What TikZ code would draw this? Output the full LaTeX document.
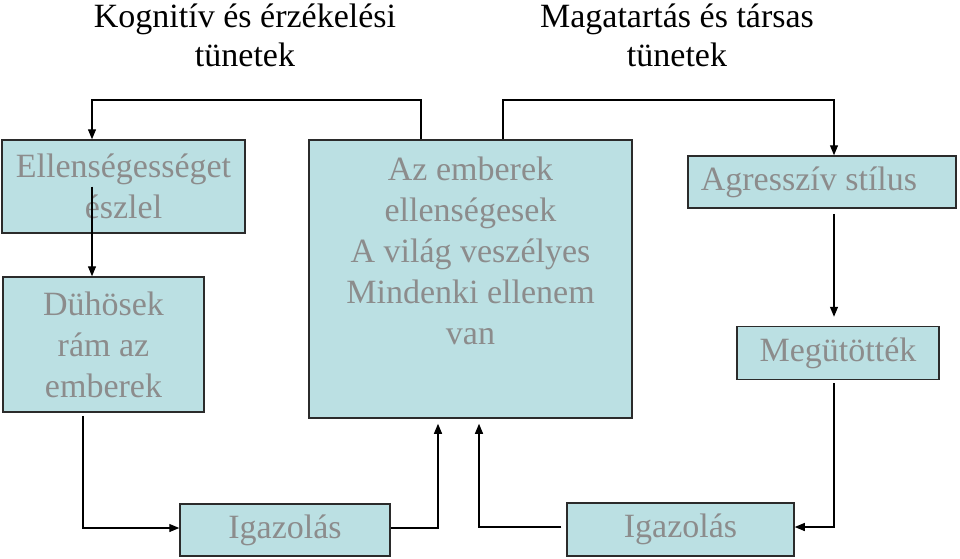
\documentclass[tikz,border=0pt]{standalone}
\usepackage{fontspec}
\setmainfont{Liberation Serif}
\usetikzlibrary{arrows.meta,positioning}
\definecolor{boxfill}{HTML}{BBE0E3}
\definecolor{boxtext}{HTML}{8C8C8C}
\definecolor{boxline}{HTML}{2B2B2B}

\begin{document}
\begin{tikzpicture}[x=1pt,y=-1pt,
  box/.style={draw=boxline, line width=1.5pt, fill=boxfill, text=boxtext,
    inner sep=0pt, align=center, font=\fontsize{34}{41}\selectfont},
  head/.style={align=center, font=\fontsize{34}{39}\selectfont},
  conn/.style={black, line width=1.2pt, -{Triangle[length=10pt,width=8pt]}}]
  \useasboundingbox (0,0) rectangle (960,558);

  % headings
  \node[head] (hcog) at (245,35) {Kognitív és érzékelési\\tünetek};
  \node[head] (hbeh) at (677,35) {Magatartás és társas\\tünetek};

  % boxes
  \node[box, minimum width=243pt, minimum height=93pt] (percv) at (123.5,186.5) {Ellenségességet\\észlel};
  \node[box, minimum width=201pt, minimum height=135pt] (angry) at (103.5,344.5) {Dühösek\\rám az\\emberek};
  \node[box, minimum width=323pt, minimum height=278pt] (belief) at (470.5,279)
    {\parbox[c][244pt][t]{320pt}{\centering Az emberek\\ellenségesek\\A világ veszélyes\\Mindenki ellenem\\van}};
  \node[box, minimum width=268pt, minimum height=52pt] (aggr) at (822,182) {Agresszív stílus\hspace*{26pt}};
  \node[box, minimum width=202pt, minimum height=53pt] (hit) at (838,353) {Megütötték};
  \node[box, minimum width=210pt, minimum height=52pt] (just1) at (285,530) {Igazolás};
  \node[box, minimum width=227pt, minimum height=53pt] (just2) at (680.5,529.5) {Igazolás};

  \coordinate (tl) at (92,100);
  \coordinate (tr) at (834,100);
  \coordinate (bl) at (83,528);
  \coordinate (ml) at (438,528);
  \coordinate (mr) at (479,527);
  \coordinate (br) at (834,527);

  % connectors
  \draw[conn] ([xshift=-49.5pt]belief.north) |- (tl) -- (tl |- percv.north);
  \draw[conn] ([xshift=32.5pt]belief.north) |- (tr) -- (tr |- aggr.north);
  \draw[conn] (percv.center -| tl) -- (tl |- angry.north);
  \draw[conn, shorten <=5pt, shorten >=9pt] (aggr.south -| tr) -- (tr |- hit.north);
  \draw[conn, shorten <=3pt] (angry.south -| bl) -- (bl) -- (just1.west |- bl);
  \draw[conn, shorten >=5pt] (just1.east |- ml) -- (ml) -- (ml |- belief.south);
  \draw[conn, shorten <=5pt, shorten >=5pt] (just2.west |- mr) -- (mr) -- (mr |- belief.south);
  \draw[conn, shorten <=3pt] (hit.south -| br) -- (br) -- (just2.east |- br);

\end{tikzpicture}
\end{document}
